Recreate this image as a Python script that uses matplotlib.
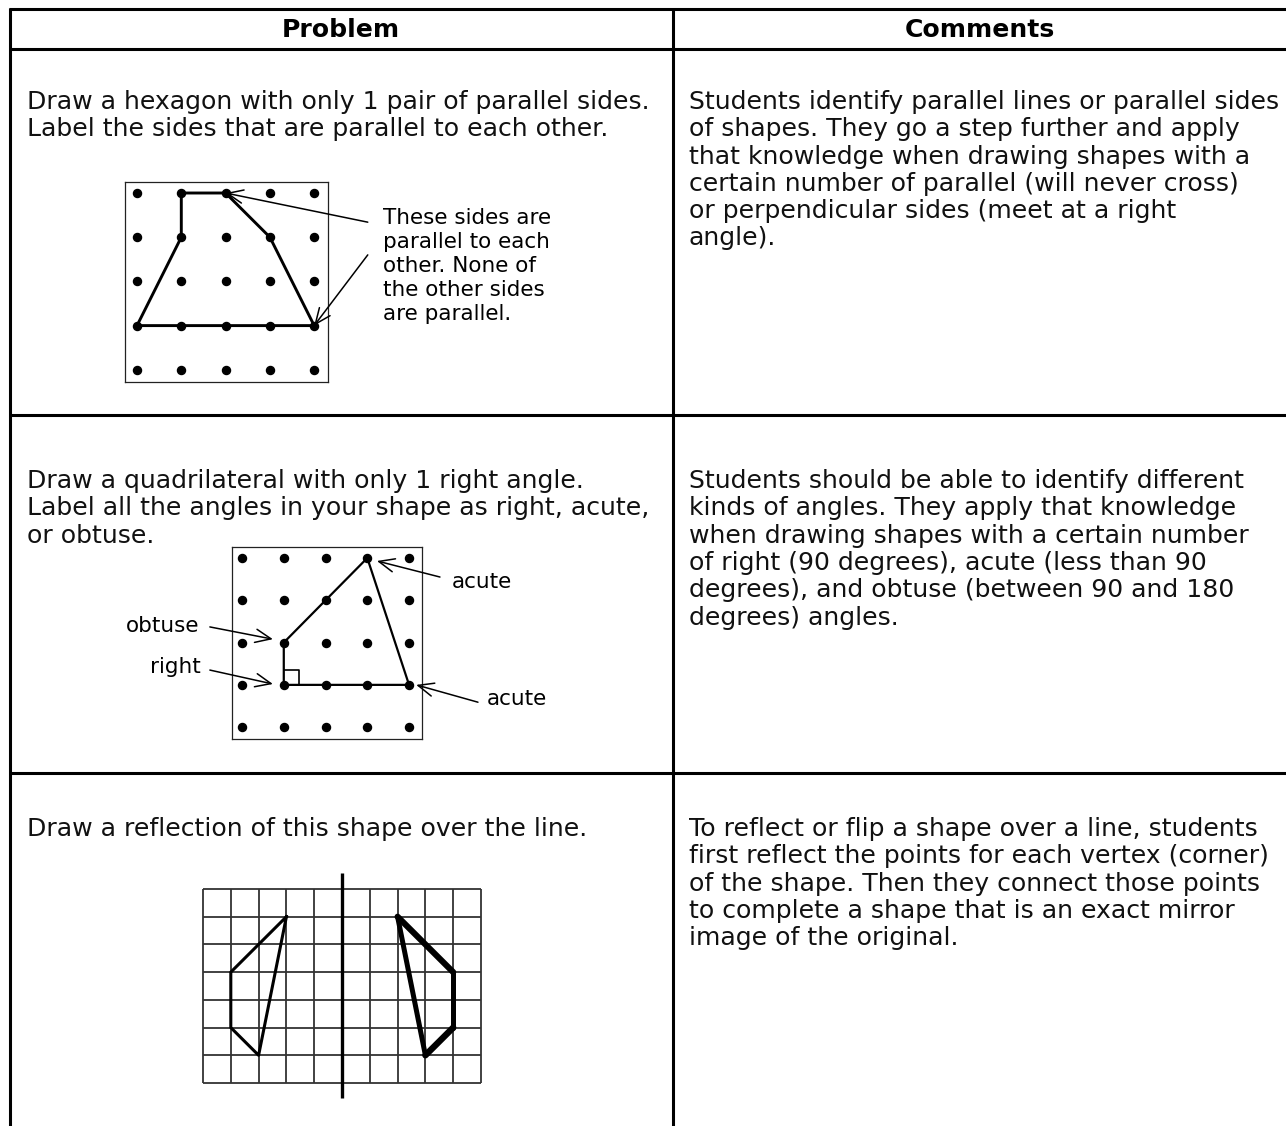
import numpy as np
import matplotlib
matplotlib.use("Agg")
import matplotlib.pyplot as plt

# ---------------- data ----------------
HEADERS = ["Problem", "Comments"]

PROBLEMS = [
    ["Draw a hexagon with only 1 pair of parallel sides.",
     "Label the sides that are parallel to each other."],
    ["Draw a quadrilateral with only 1 right angle.",
     "Label all the angles in your shape as right, acute,",
     "or obtuse."],
    ["Draw a reflection of this shape over the line."],
]

COMMENTS = [
    ["Students identify parallel lines or parallel sides",
     "of shapes. They go a step further and apply",
     "that knowledge when drawing shapes with a",
     "certain number of parallel (will never cross)",
     "or perpendicular sides (meet at a right",
     "angle)."],
    ["Students should be able to identify different",
     "kinds of angles. They apply that knowledge",
     "when drawing shapes with a certain number",
     "of right (90 degrees), acute (less than 90",
     "degrees), and obtuse (between 90 and 180",
     "degrees) angles."],
    ["To reflect or flip a shape over a line, students",
     "first reflect the points for each vertex (corner)",
     "of the shape. Then they connect those points",
     "to complete a shape that is an exact mirror",
     "image of the original."],
]

# diagram 1 : hexagon on a 5x5 dot grid (col, row), row 0 at top
HEXAGON = [(1, 0), (2, 0), (3, 1), (4, 3), (0, 3), (1, 1)]
HEX_NOTE = ["These sides are", "parallel to each", "other. None of",
            "the other sides", "are parallel."]
HEX_ARROW_TIPS = [(2, 0), (4, 3)]

# diagram 2 : quadrilateral on a 5x5 dot grid
QUAD = [(1, 2), (3, 0), (4, 3), (1, 3)]
ANGLE_LABELS = ["acute", "obtuse", "right", "acute"]
ANGLE_TIPS = [(3, 0), (1, 2), (1, 3), (4, 3)]

# diagram 3 : reflection on a 10x7 square grid
GRID_COLS, GRID_ROWS = 10, 7
MIRROR_COL = 5
SHAPE = [(3, 1), (1, 3), (1, 5), (2, 6)]
REFLECTED = [(7, 1), (9, 3), (9, 5), (8, 6)]

# ---------------- figure ----------------
W, H = 1286, 1126
fig = plt.figure(figsize=(W / 100, H / 100), dpi=100)
base = fig.add_axes([0, 0, 1, 1])
base.set_xlim(0, W)
base.set_ylim(H, 0)
base.axis("off")

MAIN_FONT = "DejaVu Sans"
HAND_FONT = "DejaVu Sans"
renderer = fig.canvas.get_renderer()


def fit_size(s, target_px, family, weight="normal"):
    t = fig.text(0, 0, s, fontsize=10, family=family, weight=weight)
    w = t.get_window_extent(renderer).width
    t.remove()
    return 10 * target_px / w


fs_main = fit_size(PROBLEMS[0][0], 624, MAIN_FONT)
fs_head = fit_size(HEADERS[0], 118, MAIN_FONT, "bold")
fs_hand = fit_size(HEX_NOTE[0], 168, HAND_FONT)

# table rules
LW_TABLE = 2.2
TOP, HEAD_BOTTOM, ROW_LINES = 9, 49, [415, 773]
LEFT, DIVIDER = 10, 673
for y in [TOP, HEAD_BOTTOM] + ROW_LINES:
    base.plot([LEFT - 1, W], [y, y], color="black", lw=LW_TABLE, solid_capstyle="butt")
for x in [LEFT, DIVIDER]:
    base.plot([x, x], [TOP - 1, H], color="black", lw=LW_TABLE, solid_capstyle="butt")

# header
base.text(341, 30, HEADERS[0], ha="center", va="center", fontsize=fs_head,
          weight="bold", family=MAIN_FONT)
base.text(980, 30, HEADERS[1], ha="center", va="center", fontsize=fs_head,
          weight="bold", family=MAIN_FONT)

# body text
LINE_STEP = 27.3
ROW_BASELINES = [109, 488, 836]
for i in range(3):
    for j, s in enumerate(PROBLEMS[i]):
        base.text(27, ROW_BASELINES[i] + j * LINE_STEP, s, ha="left", va="baseline",
                  fontsize=fs_main, family=MAIN_FONT, color="#111111")
    for j, s in enumerate(COMMENTS[i]):
        base.text(689, ROW_BASELINES[i] + j * LINE_STEP, s, ha="left", va="baseline",
                  fontsize=fs_main, family=MAIN_FONT, color="#111111")


def panel(l, t, r, b, xlim, ylim, frame=True):
    ax = fig.add_axes([l / W, 1 - b / H, (r - l) / W, (b - t) / H])
    ax.set_xlim(*xlim)
    ax.set_ylim(*ylim)
    ax.set_xticks([])
    ax.set_yticks([])
    for sp in ax.spines.values():
        sp.set_visible(frame)
        sp.set_linewidth(0.9)
        sp.set_color("#222222")
    ax.patch.set_alpha(0)
    return ax


ARROW = dict(arrowstyle="->,head_length=0.7,head_width=0.3", lw=1.1, color="black",
             shrinkA=0, shrinkB=0, mutation_scale=16)


def arrow(ax, start, tip):
    ax.annotate("", xy=tip, xytext=start, arrowprops=ARROW, annotation_clip=False)


# ---- diagram 1 ----
ax1 = panel(125, 182, 328, 382, (-0.271, 4.312), (4.276, -0.249))
gc, gr = np.meshgrid(range(5), range(5))
ax1.plot(gc.ravel(), gr.ravel(), "o", color="black", ms=5.8, clip_on=False, zorder=3)
hx = [p[0] for p in HEXAGON] + [HEXAGON[0][0]]
hy = [p[1] for p in HEXAGON] + [HEXAGON[0][1]]
ax1.plot(hx, hy, color="black", lw=2.1, solid_joinstyle="miter", zorder=2)
arrow(ax1, (5.21, 0.66), HEX_ARROW_TIPS[0])
arrow(ax1, (5.21, 1.40), HEX_ARROW_TIPS[1])
for j, s in enumerate(HEX_NOTE):
    ax1.text(5.55, 0.70 + j * 0.545, s, ha="left", va="baseline", fontsize=fs_hand,
             family=HAND_FONT)

# ---- diagram 2 ----
ax2 = panel(232, 547, 422, 739, (-0.24, 4.31), (4.28, -0.26))
ax2.plot(gc.ravel(), gr.ravel(), "o", color="black", ms=5.8, clip_on=False, zorder=3)
qx = [p[0] for p in QUAD] + [QUAD[0][0]]
qy = [p[1] for p in QUAD] + [QUAD[0][1]]
ax2.plot(qx, qy, color="black", lw=1.6, zorder=2)
sq = 0.36
c0, r0 = QUAD[3]
ax2.plot([c0, c0 + sq, c0 + sq, c0], [r0, r0, r0 - sq, r0 - sq], color="black", lw=1.2)

label_pos = [(5.03, 0.72, "left"), (-1.03, 1.75, "right"), (-0.98, 2.72, "right"),
             (5.87, 3.48, "left")]
arrow_starts = [(4.74, 0.45), (-0.77, 1.63), (-0.77, 2.65), (5.65, 3.41)]
arrow_tips = [(3.23, 0.07), (0.74, 1.92), (0.74, 2.98), (4.17, 3.0)]
for (x, y, ha), lab, st, tp in zip(label_pos, ANGLE_LABELS, arrow_starts, arrow_tips):
    ax2.text(x, y, lab, ha=ha, va="baseline", fontsize=fs_hand, family=HAND_FONT)
    arrow(ax2, st, tp)

# ---- diagram 3 ----
ax3 = panel(203, 889, 481, 1083, (0, GRID_COLS), (GRID_ROWS, 0), frame=False)
ax3.vlines(range(GRID_COLS + 1), 0, GRID_ROWS, color="#333333", lw=1.3, clip_on=False)
ax3.hlines(range(GRID_ROWS + 1), 0, GRID_COLS, color="#333333", lw=1.3, clip_on=False)
ax3.plot([MIRROR_COL, MIRROR_COL], [-0.58, 7.55], color="black", lw=2.4, clip_on=False,
         solid_capstyle="butt")
sx = [p[0] for p in SHAPE] + [SHAPE[0][0]]
sy = [p[1] for p in SHAPE] + [SHAPE[0][1]]
ax3.plot(sx, sy, color="black", lw=2.2, clip_on=False, zorder=3)
edge_w = [4.4, 3.6, 4.6, 3.6]
n = len(REFLECTED)
for k in range(n):
    a, b = REFLECTED[k], REFLECTED[(k + 1) % n]
    ax3.plot([a[0], b[0]], [a[1], b[1]], color="black", lw=edge_w[k],
             solid_capstyle="round", clip_on=False, zorder=3)

fig.savefig("out.png", dpi=100, facecolor="white")
